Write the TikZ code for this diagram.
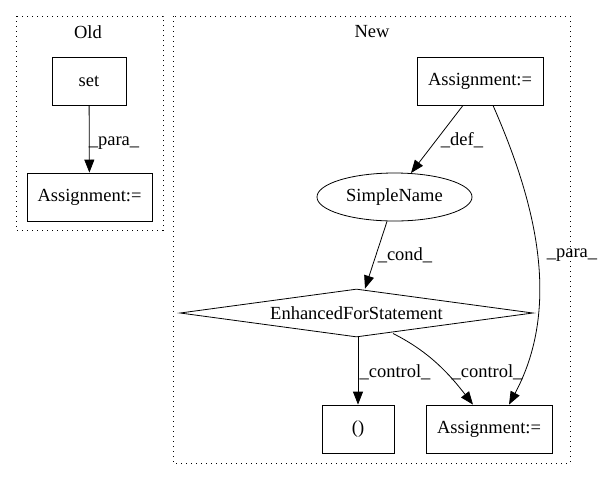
\documentclass[tikz,border=0pt]{standalone}
\usepackage{fontspec}
\setmainfont{Liberation Serif}
\usetikzlibrary{arrows.meta,shapes.geometric}
\begin{document}
\begin{tikzpicture}[x=1pt,y=-1pt,
  every node/.style={font=\fontsize{18.5}{21}\selectfont},
  box/.style={draw,thick,rectangle,inner sep=0pt},
  cluster/.style={draw,thick,dash pattern=on 1.3pt off 3.7pt},
  lbl/.style={inner sep=1pt},
  edge/.style={thick,-{Triangle[length=13pt,width=10pt]}}]
\useasboundingbox (0,0) rectangle (601,480);
% clusters
\draw[cluster] (16,16) rectangle (163,230);
\node (oldlbl) at (88,32) {Old};
\draw[cluster] (173,16) rectangle (570,463);
\node (newlbl) at (372,32) {New};
% old nodes
\node[box,minimum width=74pt,minimum height=48pt] (set) at (89,81) {set};
\node[box,minimum width=125pt,minimum height=48pt] (oassign) at (89.5,197) {Assignment:=};
\draw[edge] (set) -- (oassign);
\node[lbl] (l1) at (114,143) {\_para\_};
% new nodes
\node[box,minimum width=126pt,minimum height=48pt] (tassign) at (480,81) {Assignment:=};
\node[draw,thick,ellipse,minimum width=155pt,minimum height=48pt,inner sep=0pt] (sname) at (394.5,197) {SimpleName};
\node[draw,thick,diamond,aspect=7.35,minimum width=353pt,minimum height=48pt,inner sep=0pt] (efor) at (356.5,313) {};
\node (eforlbl) at (356.5,313) {EnhancedForStatement};
\node[box,minimum width=72pt,minimum height=48pt] (unit) at (358,429) {()};
\node[box,minimum width=126pt,minimum height=48pt] (bassign) at (489,429) {Assignment:=};
% edges
\draw[edge] (tassign.south west -| 463,0) -- (411,173);
\node[lbl] (ldef) at (462,140) {\_def\_};
\draw[edge] (tassign.south west -| 493,0) .. controls (530,190) and (565,300) .. (bassign.north -| 509,0);
\node[lbl] (paralbl) at (572,255) {\_para\_};
\draw[edge] (sname.south -| 387,0) -- (efor.north -| 365,0);
\node[lbl] (lcond) at (405,255) {\_cond\_};
\draw[edge] (efor.south -| 358,0) -- (unit);
\node[lbl] (lctl1) at (395,372) {\_control\_};
\draw[edge] (393,333.5) .. controls (430,352) and (450,375) .. (bassign.north -| 473,0);
\node[lbl] (ctl2) at (487,372) {\_control\_};
\end{tikzpicture}
\end{document}
